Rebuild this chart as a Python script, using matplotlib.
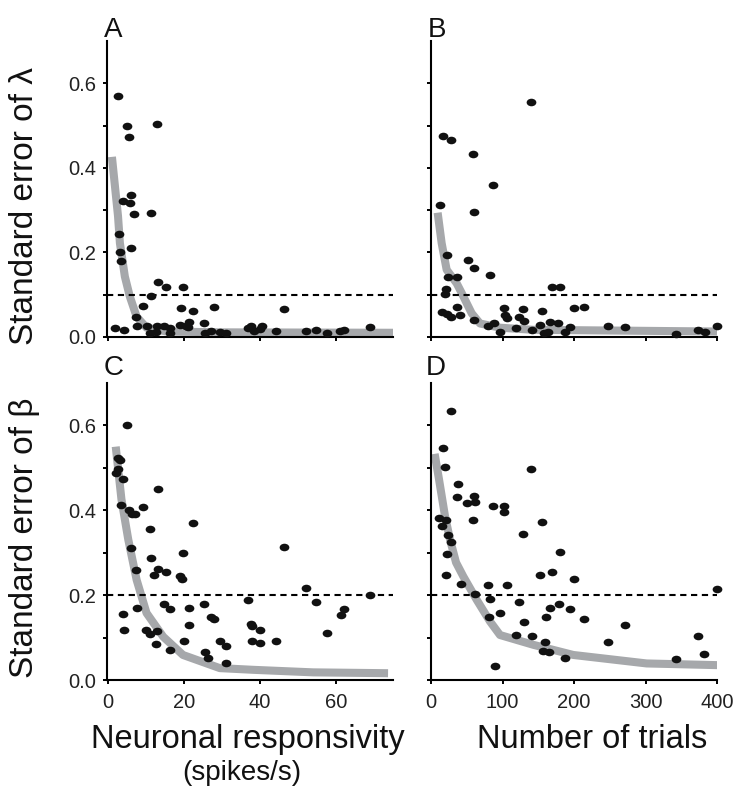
import matplotlib
matplotlib.use("Agg")
import matplotlib.pyplot as plt
from matplotlib.path import Path
from matplotlib.markers import MarkerStyle
from matplotlib.transforms import Affine2D
import numpy as np

plt.rcParams['font.family'] = ['Liberation Sans', 'DejaVu Sans']

# ---------------- data ----------------
A_x = [2.5, 5.0, 5.4, 12.9, 6.1, 3.9, 5.8, 6.8, 11.4, 2.8, 3.2, 3.4, 5.9, 13.2, 15.2, 19.7, 11.2, 9.2,
       19.1, 22.3, 27.9, 46.4, 7.4, 1.9, 4.2, 7.7, 10.2, 11.0, 12.9, 12.5, 14.6, 16.4, 16.2, 18.9, 20.6,
       21.3, 21.1, 25.2, 25.4, 27.0, 29.4, 30.9, 36.7, 37.7, 38.4, 39.9, 40.4, 44.1, 52.0, 54.6, 57.5,
       61.1, 62.2, 68.9]
A_y = [0.570, 0.499, 0.472, 0.504, 0.336, 0.321, 0.317, 0.291, 0.294, 0.243, 0.200, 0.179, 0.210,
       0.130, 0.119, 0.118, 0.097, 0.073, 0.068, 0.062, 0.072, 0.067, 0.048, 0.021, 0.016, 0.025,
       0.027, 0.010, 0.026, 0.011, 0.026, 0.022, 0.009, 0.029, 0.026, 0.036, 0.023, 0.032, 0.010,
       0.014, 0.012, 0.010, 0.022, 0.025, 0.014, 0.018, 0.026, 0.014, 0.014, 0.017, 0.010, 0.014,
       0.016, 0.024]
A_fit_x = [1.0, 2.6, 3.1, 4.4, 5.7, 7.5, 10.1, 15.4, 30, 75]
A_fit_y = [0.426, 0.286, 0.222, 0.143, 0.096, 0.048, 0.022, 0.013, 0.011, 0.010]

B_x = [12.6, 16.8, 28.4, 58.3, 86.2, 140.3, 60.6, 22.4, 51.3, 59.7,
       23.3, 36.8, 82.5, 20.5, 19.1, 169.7, 180.4, 15.9, 21.9, 27.5,
       36.8, 41.0, 60.6, 80.2, 88.6, 96.5, 102.1, 104.0, 106.8, 118.9,
       123.5, 128.7, 130.1, 141.3, 152.4, 154.8, 158.0, 163.2, 166.4, 177.6,
       187.9, 194.4, 199.5, 213.5, 247.1, 271.3, 343.1, 373.0, 382.7, 400.0]
B_y = [0.312, 0.475, 0.467, 0.433, 0.360, 0.555, 0.295, 0.194, 0.183, 0.162,
       0.141, 0.143, 0.146, 0.113, 0.101, 0.119, 0.118, 0.059, 0.054, 0.048,
       0.070, 0.052, 0.040, 0.025, 0.034, 0.013, 0.069, 0.052, 0.044, 0.022,
       0.047, 0.066, 0.039, 0.017, 0.029, 0.062, 0.010, 0.012, 0.036, 0.032,
       0.011, 0.023, 0.069, 0.072, 0.025, 0.024, 0.008, 0.017, 0.012, 0.026]
B_fit_x = [9.3, 14.9, 21.9, 35.9, 42.9, 56.9, 68.5, 96.5, 143, 400]
B_fit_y = [0.294, 0.222, 0.159, 0.127, 0.104, 0.056, 0.032, 0.022, 0.017, 0.013]

C_x = [4.9, 2.0, 2.5, 2.7, 3.2, 4.0, 3.4, 5.6, 6.2, 7.0,
       9.2, 13.0, 11.1, 22.4, 5.9, 19.8, 46.4, 11.4, 7.4, 13.2,
       12.0, 15.2, 19.0, 19.5, 52.1, 68.9, 36.8, 14.7, 25.3, 54.6,
       3.9, 7.7, 16.4, 21.4, 27.2, 28.0, 62.0, 61.2, 4.2, 9.9,
       11.0, 12.9, 21.2, 37.5, 38.0, 40.1, 57.5, 12.5, 20.0, 16.4,
       29.4, 31.0, 38.0, 40.1, 44.1, 25.4, 26.3, 30.9]
C_y = [0.600, 0.489, 0.498, 0.523, 0.519, 0.474, 0.412, 0.400, 0.391, 0.392,
       0.407, 0.451, 0.355, 0.371, 0.310, 0.299, 0.314, 0.287, 0.260, 0.262,
       0.247, 0.255, 0.246, 0.238, 0.217, 0.201, 0.188, 0.180, 0.180, 0.183,
       0.156, 0.169, 0.167, 0.169, 0.148, 0.143, 0.167, 0.153, 0.117, 0.119,
       0.108, 0.116, 0.130, 0.132, 0.128, 0.119, 0.110, 0.084, 0.091, 0.071,
       0.091, 0.081, 0.091, 0.087, 0.093, 0.065, 0.053, 0.039]
C_fit_x = [2.0, 3.5, 5.3, 7.5, 10.1, 14.5, 19.7, 29.4, 38.2, 54, 73.7]
C_fit_y = [0.550, 0.426, 0.331, 0.236, 0.158, 0.102, 0.059, 0.028, 0.024, 0.018, 0.016]

D_x = [28.4, 16.8, 19.1, 139.9, 37.8, 36.8, 50.3, 60.1, 61.1, 86.7,
       102.6, 101.6, 11.2, 21.4, 58.3, 154.8, 15.9, 23.3, 27.5, 128.7,
       22.8, 180.4, 169.7, 20.5, 152.0, 199.5, 41.5, 79.7, 106.8, 400.0,
       61.1, 82.5, 123.5, 178.6, 166.9, 193.9, 80.7, 96.5, 161.3, 129.6,
       213.5, 271.3, 118.9, 141.3, 373.9, 159.9, 247.1, 157.1, 164.6, 187.9,
       382.3, 343.1, 89.0]
D_y = [0.634, 0.547, 0.502, 0.497, 0.462, 0.432, 0.418, 0.433, 0.419, 0.409,
       0.410, 0.397, 0.381, 0.378, 0.376, 0.372, 0.362, 0.341, 0.326, 0.344,
       0.298, 0.301, 0.255, 0.247, 0.247, 0.237, 0.226, 0.223, 0.223, 0.214,
       0.202, 0.190, 0.185, 0.180, 0.169, 0.167, 0.149, 0.158, 0.149, 0.137,
       0.143, 0.130, 0.106, 0.103, 0.104, 0.090, 0.090, 0.069, 0.065, 0.053,
       0.061, 0.050, 0.032]
D_fit_x = [5.1, 11.2, 19.6, 26.6, 35.0, 45.2, 63.9, 82.5, 96.5, 143, 199, 301.6, 401]
D_fit_y = [0.533, 0.473, 0.386, 0.331, 0.277, 0.244, 0.189, 0.138, 0.106, 0.083, 0.059, 0.039, 0.035]

thresholds = [0.1, 0.1, 0.2, 0.2]
panel_letters = ["A", "B", "C", "D"]
y_ticks = [0.0, 0.1, 0.2, 0.3, 0.4, 0.5, 0.6]
y_ticklabels = ["0.0", "", "0.2", "", "0.4", "", "0.6"]
resp_ticks = [0, 20, 40, 60]
trial_ticks = [0, 100, 200, 300, 400]

# ---------------- figure ----------------
W, H = 736, 789
fig = plt.figure(figsize=(W / 100, H / 100), dpi=100)

def px_rect(x0, y0, x1, y1):
    return [x0 / W, 1 - y1 / H, (x1 - x0) / W, (y1 - y0) / H]

rects = [px_rect(107, 41, 393, 337), px_rect(431, 41, 717, 337),
         px_rect(107, 383, 393, 680), px_rect(431, 383, 717, 680)]

circle = Path.unit_circle()
ell = circle.transformed(Affine2D().scale(1.0, 0.78))
marker = MarkerStyle(ell)

grey = "#a6a8ab"
datasets = [(A_x, A_y, A_fit_x, A_fit_y), (B_x, B_y, B_fit_x, B_fit_y),
            (C_x, C_y, C_fit_x, C_fit_y), (D_x, D_y, D_fit_x, D_fit_y)]

for i, (r, (xs, ys, fx, fy)) in enumerate(zip(rects, datasets)):
    ax = fig.add_axes(r)
    ax.plot(fx, fy, color=grey, lw=5.8, solid_capstyle='butt', solid_joinstyle='round', zorder=2)
    ax.axhline(thresholds[i], color='black', lw=1.5, ls=(0, (3.0, 2.2)), zorder=3)
    ax.plot(xs, ys, ls='none', marker=marker, ms=7.0, color='#111111', mec='none', zorder=4,
            clip_on=False)
    ax.set_ylim(0, 0.7)
    if i % 2 == 0:
        ax.set_xlim(-0.3, 75)
        ax.set_xticks(resp_ticks)
    else:
        ax.set_xlim(0, 400)
        ax.set_xticks(trial_ticks)
    ax.set_yticks(y_ticks)
    if i % 2 == 0:
        ax.set_yticklabels(y_ticklabels)
    else:
        ax.set_yticklabels([])
    if i < 2:
        ax.set_xticklabels([])
    for s in ['top', 'right']:
        ax.spines[s].set_visible(False)
    for s in ['left', 'bottom']:
        ax.spines[s].set_linewidth(1.5)
    ax.tick_params(direction='out', length=3.0, width=1.4, labelsize=14.5, pad=5,
                   colors='black', labelcolor='#222222')
    ax.tick_params(axis='x', pad=6)

# panel letters
letter_pos = [(104, 37), (428, 37), (104, 375), (426, 375)]
for L, (x, y) in zip(panel_letters, letter_pos):
    fig.text(x / W, 1 - y / H, L, fontsize=20, ha='left', va='baseline', color='#111111')

# y labels
fig.text(25 / W, 1 - 206 / H, "Standard error of λ", rotation=90, fontsize=24,
         ha='center', va='center', color='#111111')
fig.text(25 / W, 1 - 538 / H, "Standard error of β", rotation=90, fontsize=24,
         ha='center', va='center', color='#111111')

# x labels
fig.text(247.5 / W, 1 - 748 / H, "Neuronal responsivity", fontsize=23.5, ha='center',
         va='baseline', color='#111111')
fig.text(241.7 / W, 1 - 780 / H, "(spikes/s)", fontsize=20, ha='center', va='baseline',
         color='#111111')
fig.text(592 / W, 1 - 748 / H, "Number of trials", fontsize=23.5, ha='center', va='baseline',
         color='#111111')

fig.savefig("out.png", dpi=100)
